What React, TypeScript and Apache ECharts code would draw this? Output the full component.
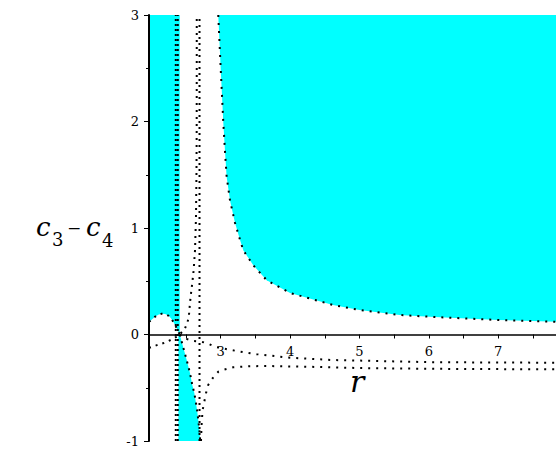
import React, { useEffect, useRef } from "react";
import * as echarts from "echarts";

// Axis extents
const xMin = 1.967;
const xMax = 7.832;
const yMin = -1;
const yMax = 3;

// Tick values
const xTickValues = [2.5, 3, 3.5, 4, 4.5, 5, 5.5, 6, 6.5, 7, 7.5];
const xLabelValues = [3, 4, 5, 6, 7];

// Curves (r, c3 - c4)
const archCurve: number[][] = [
  [1.967, 0.12], [2.0, 0.135], [2.05, 0.165], [2.1, 0.185], [2.15, 0.195],
  [2.2, 0.192], [2.245, 0.178], [2.28, 0.155], [2.317, 0.12], [2.35, 0.08],
  [2.38, 0.04], [2.41, 0],
];
const steepCurve: number[][] = [
  [2.41, 0], [2.46, -0.12], [2.51, -0.24], [2.557, -0.36], [2.591, -0.474],
  [2.62, -0.55], [2.644, -0.643], [2.663, -0.725], [2.677, -0.803],
  [2.69, -0.878], [2.7, -0.95], [2.705, -1.0],
];
const lowerLeftCurve: number[][] = [
  [1.967, -0.125], [2.014, -0.115], [2.08, -0.1], [2.135, -0.09], [2.2, -0.075],
  [2.245, -0.062], [2.317, -0.04], [2.36, -0.022], [2.41, 0], [2.45, 0.03],
  [2.486, 0.058], [2.524, 0.12], [2.543, 0.183], [2.558, 0.3], [2.575, 0.4],
  [2.59, 0.48], [2.61, 0.6], [2.63, 0.79], [2.644, 1.1], [2.651, 1.5],
  [2.654, 1.9], [2.655, 2.5], [2.655, 3],
];
const upperRightCurve: number[][] = [
  [2.41, 0], [2.5, -0.04], [2.6, -0.06], [2.7, -0.065], [2.8, -0.08],
  [2.918, -0.115], [3.1, -0.14], [3.278, -0.16], [3.52, -0.185], [3.807, -0.205],
  [4.0, -0.218], [4.62, -0.24], [5.0, -0.245], [6.02, -0.26], [7.0, -0.263],
  [7.832, -0.265],
];
const lowerRightCurve: number[][] = [
  [2.716, -1], [2.726, -0.83], [2.74, -0.709], [2.764, -0.631], [2.788, -0.552],
  [2.82, -0.474], [2.885, -0.41], [2.965, -0.35], [3.05, -0.33], [3.18, -0.308],
  [3.4, -0.298], [3.66, -0.296], [4.2, -0.302], [5.0, -0.315], [6.0, -0.322],
  [7.0, -0.325], [7.832, -0.327],
];
const boundaryCurve: number[][] = [
  [2.965, 3], [3.0, 2.5], [3.037, 2.0], [3.062, 1.72], [3.086, 1.48],
  [3.134, 1.26], [3.206, 1.05], [3.278, 0.89], [3.326, 0.79], [3.47, 0.65],
  [3.663, 0.51], [4.0, 0.39], [4.618, 0.277], [5.0, 0.23], [5.577, 0.183],
  [6.01, 0.167], [7.0, 0.136], [7.832, 0.12],
];
const verticalA: number[][] = [[2.353, -1], [2.353, 3]];
const verticalB: number[][] = [[2.382, -1], [2.382, 3]];
const verticalC: number[][] = [[2.695, -1], [2.695, 3]];
const lowerFillCurve: number[][] = [[2.39, 0], ...steepCurve];

const CYAN = "#00ffff";
const SERIF = "DejaVu Serif";

function dotted(data: number[][], dash: number[]) {
  return {
    type: "line",
    data,
    showSymbol: false,
    silent: true,
    z: 5,
    lineStyle: { color: "#000", width: 2, type: dash, cap: "butt" },
  };
}

function filled(data: number[][], origin: "start" | "end") {
  return {
    type: "line",
    data,
    showSymbol: false,
    silent: true,
    z: 1,
    lineStyle: { width: 0, opacity: 0 },
    areaStyle: { color: CYAN, opacity: 1, origin },
  };
}

export default function App() {
  const ref = useRef<HTMLDivElement>(null);
  useEffect(() => {
    if (!ref.current) return;
    const chart = echarts.init(ref.current, undefined, { renderer: "svg" });
    const plotHeight = 458 - 15 - 17;
    const zeroOffset = -plotHeight * (0 - yMin) / (yMax - yMin);
    const txt = (text: string, x: number, y: number, size: number, italic: boolean) => ({
      type: "text",
      x,
      y,
      style: {
        text,
        fontSize: size,
        fontStyle: italic ? "italic" : "normal",
        fontFamily: SERIF,
        fill: "#000",
        align: "left",
        verticalAlign: "middle",
      },
    });
    const option: any = {
      animation: false,
      backgroundColor: "#fff",
      grid: {
        left: 149, right: 0, top: 15, bottom: 17,
        containLabel: false, outerBoundsMode: "none",
      },
      xAxis: {
        type: "value",
        min: xMin,
        max: xMax,
        position: "bottom",
        offset: zeroOffset,
        z: 10,
        splitLine: { show: false },
        axisLine: { show: true, onZero: false, lineStyle: { color: "#000", width: 1.5 } },
        axisTick: {
          show: true, length: 4, customValues: xTickValues,
          lineStyle: { color: "#000", width: 1 },
        },
        axisLabel: {
          show: true, customValues: xLabelValues, margin: 10,
          color: "#000", fontSize: 13, fontFamily: SERIF,
        },
      },
      yAxis: {
        type: "value",
        min: yMin,
        max: yMax,
        interval: 1,
        z: 10,
        splitLine: { show: false },
        axisLine: { show: true, onZero: false, lineStyle: { color: "#000", width: 2 } },
        axisTick: { show: true, length: 5, lineStyle: { color: "#000", width: 1 } },
        minorTick: { show: true, splitNumber: 2, length: 3, lineStyle: { color: "#000", width: 1 } },
        axisLabel: {
          show: true, margin: 10, color: "#000", fontSize: 13, fontFamily: SERIF,
          formatter: (v: number) => (v < 0 ? "-" + Math.abs(v) : String(v)),
        },
      },
      graphic: [
        txt("c", 36, 227, 26, true),
        txt("3", 52, 239, 18, false),
        txt("\u2212", 67, 228, 17, false),
        txt("c", 86, 227, 26, true),
        txt("4", 102, 240, 18, false),
        txt("r", 350, 381, 30, true),
      ],
      series: [
        filled(archCurve, "end"),
        filled(lowerFillCurve, "start"),
        filled(boundaryCurve, "end"),
        dotted(verticalA, [2, 3]),
        dotted(verticalB, [2, 3]),
        dotted(verticalC, [2, 4]),
        dotted(archCurve, [2, 5]),
        dotted(steepCurve, [2, 5]),
        dotted(lowerLeftCurve, [2, 5]),
        dotted(upperRightCurve, [2, 6]),
        dotted(lowerRightCurve, [2, 6]),
        dotted(boundaryCurve, [2, 6]),
      ],
    };
    chart.setOption(option);
    return () => chart.dispose();
  }, []);
  return (
    <div
      ref={ref}
      style={{ position: "fixed", left: 0, top: 0, width: 556, height: 458 }}
    />
  );
}
